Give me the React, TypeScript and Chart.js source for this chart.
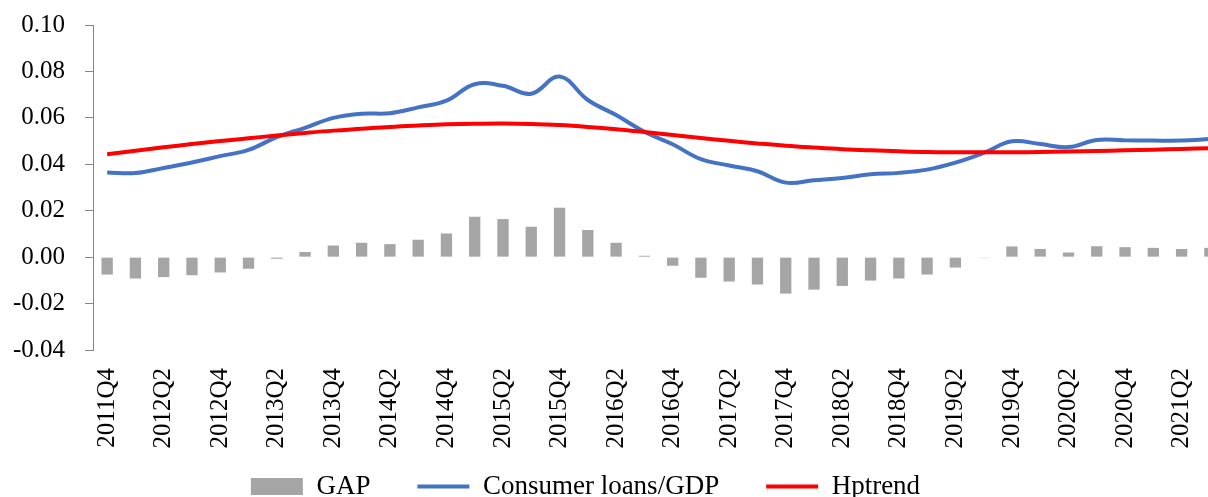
import { useEffect, useRef } from 'react';
import { Chart, registerables } from 'chart.js';

Chart.register(...registerables);

const quarters = [
  '2011Q4',
  '2012Q1', '2012Q2', '2012Q3', '2012Q4',
  '2013Q1', '2013Q2', '2013Q3', '2013Q4',
  '2014Q1', '2014Q2', '2014Q3', '2014Q4',
  '2015Q1', '2015Q2', '2015Q3', '2015Q4',
  '2016Q1', '2016Q2', '2016Q3', '2016Q4',
  '2017Q1', '2017Q2', '2017Q3', '2017Q4',
  '2018Q1', '2018Q2', '2018Q3', '2018Q4',
  '2019Q1', '2019Q2', '2019Q3', '2019Q4',
  '2020Q1', '2020Q2', '2020Q3', '2020Q4',
  '2021Q1', '2021Q2', '2021Q3',
];

const gap = [
  -0.0075, -0.0092, -0.0086, -0.0078, -0.0066, -0.005, -0.0007, 0.0022, 0.005, 0.0062,
  0.0056, 0.0075, 0.0102, 0.0174, 0.0164, 0.0131, 0.0213, 0.0117, 0.0062, 0.0006,
  -0.0037, -0.0089, -0.0105, -0.0118, -0.0157, -0.014, -0.0124, -0.0101, -0.0092, -0.0075,
  -0.0045, -0.0003, 0.0046, 0.0035, 0.002, 0.0047, 0.0043, 0.004, 0.0035, 0.004,
];

const consumerLoans = [
  0.0365, 0.0362, 0.0384, 0.0408, 0.0435, 0.0462, 0.0517, 0.0557, 0.06, 0.0618,
  0.062, 0.0645, 0.0674, 0.0745, 0.0738, 0.0704, 0.0778, 0.0677, 0.0612, 0.054,
  0.0486, 0.0422, 0.0395, 0.037, 0.0321, 0.0331, 0.0341, 0.0357, 0.0363, 0.0377,
  0.0407, 0.0449, 0.0499, 0.0487, 0.0474, 0.0505, 0.0503, 0.0502, 0.0502, 0.0509,
];

const hpTrend = [
  0.0443, 0.0458, 0.0473, 0.0487, 0.05, 0.0512, 0.0524, 0.0535, 0.0545, 0.0553,
  0.0561, 0.0567, 0.0572, 0.0575, 0.0576, 0.0574, 0.0569, 0.0561, 0.0551, 0.0539,
  0.0526, 0.0513, 0.0501, 0.049, 0.048, 0.0472, 0.0465, 0.046, 0.0456, 0.0453,
  0.0452, 0.0452, 0.0452, 0.0453, 0.0455, 0.0457, 0.046, 0.0463, 0.0466, 0.0469,
];

const yMin = -0.04;
const yMax = 0.1;
const yStep = 0.02;

const FONT = "'Liberation Serif', 'Times New Roman', serif";

const legendShift = {
  id: 'legendShift',
  afterLayout(chart: any) {
    const lg = chart.legend;
    if (!lg) return;
    const dx = 585.5 - (lg.left + lg.right) / 2;
    lg.left += dx;
    lg.right += dx;
    const dy = 426 - lg.top;
    lg.top += dy;
    lg.bottom += dy;
  },
};

export default function App() {
  const ref = useRef<HTMLCanvasElement>(null);

  useEffect(() => {
    document.body.style.margin = '0';
    Chart.defaults.font.family = FONT;
    const chart = new Chart(ref.current!, {
      type: 'bar',
      data: {
        labels: quarters,
        datasets: [
          {
            type: 'bar',
            label: 'GAP',
            data: gap,
            backgroundColor: '#A5A5A5',
            borderWidth: 0,
            barPercentage: 0.4,
            categoryPercentage: 1,
            order: 3,
            pointStyle: 'rect',
          } as any,
          {
            type: 'line',
            label: 'Consumer loans/GDP',
            data: consumerLoans,
            borderColor: '#4472C4',
            backgroundColor: '#4472C4',
            borderWidth: 4,
            pointRadius: 0,
            tension: 0.4,
            fill: false,
            order: 2,
            pointStyle: 'line',
          } as any,
          {
            type: 'line',
            label: 'Hptrend',
            data: hpTrend,
            borderColor: '#FF0000',
            backgroundColor: '#FF0000',
            borderWidth: 4,
            pointRadius: 0,
            tension: 0.4,
            fill: false,
            order: 1,
            pointStyle: 'line',
          } as any,
        ],
      },
      options: {
        animation: false,
        responsive: false,
        layout: { padding: { top: 25, left: 0, right: 0, bottom: 0 } },
        plugins: {
          legend: {
            position: 'bottom',
            labels: {
              usePointStyle: true,
              pointStyleWidth: 52,
              boxHeight: 17,
              padding: 47,
              color: '#000',
              font: { size: 27, family: FONT },
              sort: (a: any, b: any) => a.datasetIndex - b.datasetIndex,
            },
          },
          tooltip: { enabled: false },
        },
        scales: {
          x: {
            offset: true,
            grid: { display: false, drawTicks: false },
            border: { display: false },
            ticks: {
              autoSkip: false,
              maxRotation: 90,
              minRotation: 90,
              padding: 18,
              color: '#000',
              font: { size: 25, family: FONT },
              callback: (_v: any, i: number) => (i % 2 === 0 ? quarters[i] : ''),
            },
            afterFit: (s: any) => {
              s.height = 100;
              s.paddingLeft = 0;
              s.paddingRight = 0;
            },
          },
          y: {
            min: yMin,
            max: yMax,
            ticks: {
              stepSize: yStep,
              color: '#000',
              padding: 20,
              font: { size: 25, family: FONT },
              callback: (v: any) => (Math.abs(Number(v)) < 1e-9 ? '0.00' : Number(v).toFixed(2)),
            },
            grid: {
              drawOnChartArea: false,
              drawTicks: true,
              tickLength: 8,
              color: '#868686',
            },
            border: { display: true, color: '#868686', width: 1 },
            afterFit: (s: any) => {
              s.width = 93;
              s.paddingTop = 0;
              s.paddingBottom = 0;
            },
          },
        },
      } as any,
      plugins: [legendShift],
    });
    return () => chart.destroy();
  }, []);

  return (
    <div style={{ width: 1208, height: 497, overflow: 'hidden', background: '#fff' }}>
      <canvas ref={ref} width={1224} height={534} style={{ display: 'block' }} />
    </div>
  );
}
